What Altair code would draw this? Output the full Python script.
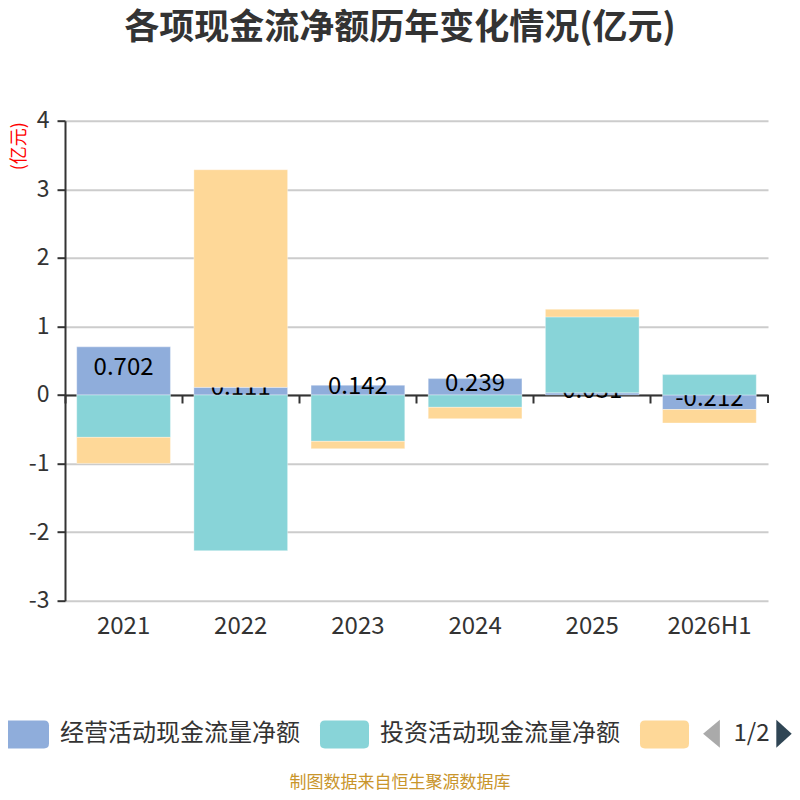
import altair as alt
import pandas as pd

# ---------------- data ----------------
years = ["2021", "2022", "2023", "2024", "2025", "2026H1"]
series = ["经营活动现金流量净额", "投资活动现金流量净额", "筹资活动现金流量净额"]
operating = [0.702, 0.111, 0.142, 0.239, 0.031, -0.212]
investing = [-0.618, -2.27, -0.676, -0.18, 1.108, 0.297]
financing = [-0.38, 3.174, -0.107, -0.165, 0.112, -0.197]
colors = ["#8FADDB", "#88D4D8", "#FED898"]
y_ticks = [-3, -2, -1, 0, 1, 2, 3, 4]
title_text = "各项现金流净额历年变化情况(亿元)"
y_title = "(亿元)"
footer_text = "制图数据来自恒生聚源数据库"
pager_text = "1/2"

rows = []
for i, yr in enumerate(years):
    for k, vals in enumerate([operating, investing, financing]):
        rows.append({"year": yr, "series": series[k], "idx": k, "value": vals[i]})
df = pd.DataFrame(rows)

# ---------------- layout ----------------
FONT = "Noto Sans CJK SC"
W, H = 703, 480
Y_MIN, Y_MAX = -3, 4
zero_px = H * Y_MAX / (Y_MAX - Y_MIN)

x_scale = alt.Scale(domain=years, paddingInner=0, paddingOuter=0)
y_scale = alt.Scale(domain=[Y_MIN, Y_MAX], nice=False, zero=False)

rounded = ("M-0.8,-0.571L0.8,-0.571Q1,-0.571 1,-0.371L1,0.371Q1,0.571 0.8,0.571"
           "L-0.8,0.571Q-1,0.571 -1,0.371L-1,-0.371Q-1,-0.571 -0.8,-0.571Z")

color = alt.Color(
    "series:N",
    scale=alt.Scale(domain=series, range=colors),
    sort=series,
    legend=alt.Legend(
        orient="none", legendX=-65, legendY=589, direction="horizontal", columns=3,
        title=None, symbolType=rounded, symbolSize=2401, symbolStrokeWidth=0,
        symbolOpacity=1, labelFont=FONT, labelFontSize=24, labelColor="#333",
        labelOffset=11, columnPadding=20, labelLimit=400, padding=0,
        labelExpr="datum.label == '筹资活动现金流量净额' ? '' : datum.label",
    ),
)

y_axis = alt.Axis(
    values=y_ticks, labelExpr="datum.value + ''", labelFont=FONT, labelFontSize=23,
    labelColor="#333", tickSize=8, tickWidth=2, tickColor="#333",
    domainColor="#333", domainWidth=2, gridColor="#cccccc", gridWidth=2, labelPadding=8,
    title=y_title, titleFont=FONT, titleFontSize=18, titleFontWeight="normal",
    titleColor="red", titleAngle=270, titleX=-46, titleY=25,
    titleAlign="center", titleBaseline="middle",
)

bottom_axis = alt.Axis(
    orient="bottom", domain=False, ticks=False, tickSize=0, grid=False,
    labelFont=FONT, labelFontSize=24, labelColor="#333", labelPadding=14,
    labelAngle=0, title=None,
)

zero_axis = alt.Axis(
    orient="bottom", offset=-(H - zero_px), labels=False, ticks=True, domain=True,
    bandPosition=0, tickSize=8, tickWidth=2, tickColor="#333",
    domainColor="#333", domainWidth=2, grid=False, title=None,
)

bar_style = dict(width=alt.RelativeBandSize(0.8), stroke="white", strokeWidth=1, strokeOpacity=0.35)


def stacked():
    return alt.Chart(df).transform_stack(
        stack="value", groupby=["year"], as_=["y0", "y1"],
        sort=[alt.SortField("idx", order="ascending")],
    )


axis_layer = alt.Chart(df).mark_rule(opacity=0).encode(
    x=alt.X("year:N", sort=years, scale=x_scale, axis=zero_axis)
)

ops = stacked().transform_filter("datum.idx == 0").mark_bar(**bar_style).encode(
    x=alt.X("year:N", sort=years, scale=x_scale, axis=bottom_axis),
    y=alt.Y("y0:Q", scale=y_scale, axis=y_axis),
    y2="y1:Q",
    color=color,
)

labels = stacked().transform_filter("datum.idx == 0").transform_calculate(
    mid="(datum.y0 + datum.y1) / 2",
    lbl="replace(format(datum.value, '.3f'), '\u2212', '-')",
).mark_text(font=FONT, fontSize=24, color="#000", baseline="middle", dy=-3).encode(
    x=alt.X("year:N", sort=years, scale=x_scale, axis=None),
    y=alt.Y("mid:Q", scale=y_scale, axis=None),
    text="lbl:N",
)

others = stacked().transform_filter("datum.idx > 0").mark_bar(**bar_style).encode(
    x=alt.X("year:N", sort=years, scale=x_scale, axis=None),
    y=alt.Y("y0:Q", scale=y_scale, axis=None),
    y2="y1:Q",
    color=color,
)

end_tick = alt.Chart(pd.DataFrame({"k": [0]})).mark_rule(color="#333", strokeWidth=2).encode(
    x=alt.value(W), y=alt.value(zero_px), y2=alt.value(zero_px + 8)
)

title_layer = alt.Chart(pd.DataFrame({"t": [title_text]})).mark_text(
    font=FONT, fontSize=35, fontWeight="bold", color="#333", align="center", baseline="middle"
).encode(x=alt.value(335), y=alt.value(-93), text="t:N")

footer_layer = alt.Chart(pd.DataFrame({"t": [footer_text]})).mark_text(
    font=FONT, fontSize=17, color="#C9952B", align="center", baseline="middle"
).encode(x=alt.value(335), y=alt.value(662.5), text="t:N")

pager_layer = alt.Chart(pd.DataFrame({"t": [pager_text]})).mark_text(
    font=FONT, fontSize=24, color="#333", align="center", baseline="middle"
).encode(x=alt.value(686.5), y=alt.value(613), text="t:N")

arrow_left = alt.Chart(pd.DataFrame({"k": [0]})).mark_point(
    shape="M0.6,-1L-0.6,0L0.6,1Z", filled=True, size=784, color="#AAAAAA", opacity=1, strokeWidth=0
).encode(x=alt.value(646.5), y=alt.value(613))

arrow_right = alt.Chart(pd.DataFrame({"k": [0]})).mark_point(
    shape="M-0.55,-1L0.55,0L-0.55,1Z", filled=True, size=784, color="#2F4554", opacity=1, strokeWidth=0
).encode(x=alt.value(719), y=alt.value(613))

chart = alt.layer(
    axis_layer, ops, labels, others, end_tick,
    title_layer, footer_layer, pager_layer, arrow_left, arrow_right,
).resolve_axis(x="independent", y="independent").properties(
    width=W, height=H,
    autosize=alt.AutoSizeParams(type="none"),
    padding={"left": 57, "top": 112.7, "right": 24, "bottom": 191.3},
).configure_view(stroke=None)

chart.save("out.html", embed_options={"renderer": "svg", "actions": False})
